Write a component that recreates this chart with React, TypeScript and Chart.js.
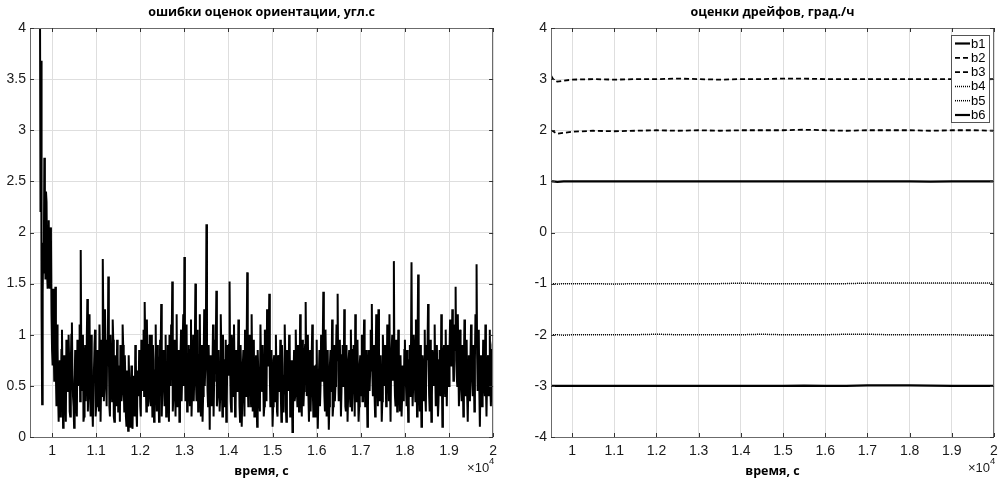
import React, { useEffect, useRef } from "react";
import { Chart, registerables } from "chart.js";

Chart.register(...registerables);

// ---------- data ----------
// attitude-estimate error, samples every 25 s from 9725 s, plus in-between samples (offset 12.5 s)
const errStart = 9725;
const errStep = 25;
const errValues = [
  4.5, 3.68, 0.32, 1.9, 2.73, 1.55, 2.3, 1.45, 2.12, 1.45, 1.95, 0.85, 1.45,
  0.55, 1.47, 0.3, 0.9, 0.15, 0.75, 0.45, 1.05, 0.09, 0.8, 0.35, 0.95, 0.5, 1.0, 0.25, 0.7, 1.12, 0.4, 0.09, 0.85,
  0.3, 0.95, 0.6, 1.1, 1.83, 0.45, 1.0, 0.2, 0.9, 0.6, 1.35, 0.5, 1.2, 0.2, 0.75, 0.1, 0.65, 1.05, 0.3, 0.85,
  0.4, 1.1, 0.15, 0.95, 1.74, 0.35, 1.25, 0.6, 0.95, 1.57, 0.3, 1.0, 0.5, 1.15, 0.2, 0.8, 0.45, 0.95, 0.25, 0.7,
  0.9, 0.35, 1.1, 0.5, 0.8, 0.2, 0.65, 0.06, 0.55, 0.1, 0.7, 0.08, 0.6, 0.2, 0.75, 0.1, 0.5, 0.85, 0.3, 0.95,
  0.45, 1.05, 1.32, 0.6, 1.15, 0.3, 0.9, 0.55, 1.0, 0.2, 0.75, 0.4, 1.1, 0.25, 0.8, 0.15, 0.95, 1.3, 0.5, 0.85,
  0.3, 1.0, 0.45, 0.9, 0.15, 0.7, 1.1, 1.52, 0.4, 0.95, 0.2, 1.2, 0.55, 0.85, 0.25, 1.05, 0.6, 1.2, 1.76, 0.35,
  1.1, 0.5, 0.9, 0.3, 1.15, 0.45, 1.0, 0.6, 1.5, 0.35, 1.05, 0.5, 1.2, 0.2, 0.9, 0.4, 1.25, 0.7, 2.08, 0.45,
  0.9, 0.07, 0.65, 0.3, 1.1, 0.55, 0.95, 1.43, 0.4, 0.85, 0.25, 1.2, 0.5, 1.0, 0.3, 0.75, 0.15, 0.9, 0.6, 1.52,
  0.35, 1.0, 0.5, 1.1, 0.2, 0.85, 0.45, 1.15, 0.3, 0.9, 0.1, 0.7, 0.55, 1.05, 0.4, 1.61, 0.3, 1.0, 0.6, 1.2,
  0.25, 0.95, 0.4, 0.8, 0.1, 0.65, 0.35, 1.1, 0.5, 0.9, 0.2, 1.05, 0.45, 1.25, 0.7, 1.4, 0.3, 0.85, 0.1, 0.75,
  0.5, 1.0, 0.25, 0.8, 0.45, 0.95, 0.15, 0.7, 0.4, 1.1, 0.3, 0.85, 0.55, 1.0, 0.2, 0.75, 0.05, 0.6, 0.35, 1.05,
  0.5, 0.9, 0.25, 1.2, 0.45, 0.95, 0.3, 0.8, 1.32, 0.4, 1.0, 0.15, 0.85, 0.5, 1.1, 0.2, 0.7, 0.35, 0.95, 0.08,
  0.6, 0.3, 1.0, 0.55, 1.42, 0.4, 1.05, 0.2, 0.85, 0.07, 0.7, 0.45, 1.15, 0.3, 0.9, 0.5, 1.1, 1.4, 0.35, 0.95,
  0.2, 0.8, 0.5, 1.25, 0.3, 0.9, 0.15, 0.75, 0.45, 1.05, 0.25, 0.85, 0.55, 1.2, 0.35, 0.95, 0.15, 0.7, 0.4, 1.0,
  0.6, 1.15, 0.3, 0.85, 0.1, 0.7, 0.45, 1.05, 1.3, 0.4, 0.9, 0.2, 1.2, 0.55, 1.25, 0.35, 0.8, 0.15, 1.0, 0.5,
  0.9, 0.3, 1.1, 0.6, 1.2, 0.15, 0.85, 0.55, 1.72, 0.4, 0.95, 0.25, 1.05, 0.45, 0.8, 0.2, 0.7, 0.35, 0.95, 0.5,
  0.85, 0.15, 0.75, 0.4, 1.71, 0.3, 1.0, 0.55, 1.15, 0.2, 1.59, 0.45, 0.9, 0.1, 0.8, 0.35, 1.05, 0.25, 0.75, 1.3,
  0.4, 0.95, 0.15, 0.85, 0.5, 1.1, 0.3, 0.9, 0.2, 0.75, 0.45, 1.2, 0.1, 0.8, 0.55, 1.05, 0.3, 0.9, 0.5, 1.15,
  0.7, 1.25, 0.55, 1.1, 1.47, 0.6, 1.2, 0.3, 1.05, 0.5, 0.9, 0.2, 1.15, 0.4, 0.95, 0.15, 0.8, 0.35, 1.1, 0.55,
  0.9, 0.25, 1.2, 1.69, 0.45, 1.05, 0.1, 0.8, 0.3, 0.95, 0.5, 1.1, 0.2, 0.75, 0.4, 1.05, 0.3, 0.85, 0.95,
];
const errMidValues = [
  2.2, 1.2, 1.4, 1.6, 1.9, 2.4, 1.6, 1.9, 1.5, 2.05, 1.2, 0.7,
  0.9, 0.8, 0.6, 1.1, 0.4, 0.6, 0.2, 0.85, 0.55, 0.3, 0.65, 0.15, 0.9, 0.45, 0.75, 0.2, 1.0, 0.6, 0.3, 0.55,
  0.7, 0.2, 0.5, 0.85, 0.35, 0.8, 0.6, 0.15, 0.7, 0.35, 0.95, 0.25, 0.8, 0.4, 1.0, 0.3, 0.55, 0.9, 0.2, 0.6,
  0.65, 0.25, 0.8, 0.5, 0.4, 1.1, 0.5, 0.85, 0.3, 0.7, 0.9, 0.2, 0.75, 0.35, 0.95, 0.15, 0.6, 0.3, 0.8, 0.45,
  0.15, 0.7, 0.45, 0.9, 0.25, 0.55, 0.1, 0.4, 0.8, 0.3, 0.45, 0.15, 0.5, 0.35, 0.9, 0.25, 0.65, 0.4, 0.7, 0.2,
  0.6, 0.8, 0.4, 0.95, 0.25, 0.7, 0.35, 1.0, 0.3, 0.55, 0.9, 0.15, 0.65, 0.45, 0.9, 0.5, 0.3, 0.8, 0.2, 0.65,
  0.55, 0.75, 0.2, 0.6, 0.4, 1.0, 0.5, 0.85, 0.25, 0.7, 0.45, 0.9, 0.3, 0.6, 0.15, 0.8, 0.35, 0.95, 0.5, 0.8,
  0.6, 0.25, 0.7, 0.45, 0.85, 0.2, 0.6, 0.35, 0.9, 0.55, 0.7, 0.25, 0.8, 0.45, 0.65, 0.15, 0.75, 0.5, 0.95, 0.8,
  0.3, 0.55, 0.8, 0.45, 0.7, 0.2, 0.6, 0.9, 0.3, 0.7, 0.55, 0.4, 0.85, 0.2, 0.65, 0.4, 0.95, 0.35, 0.8, 0.9,
  0.7, 0.25, 0.9, 0.4, 0.65, 0.3, 0.75, 0.55, 0.8, 0.15, 0.6, 0.35, 0.85, 0.2, 0.75, 0.9, 0.5, 0.4, 0.85, 0.3,
  0.7, 0.55, 0.2, 0.6, 0.35, 0.85, 0.5, 0.25, 0.75, 0.45, 0.65, 0.3, 0.9, 0.35, 0.8, 0.9, 0.6, 0.45, 0.5, 0.3,
  0.8, 0.35, 0.6, 0.2, 0.75, 0.5, 0.4, 0.9, 0.25, 0.6, 0.8, 0.15, 0.7, 0.45, 0.95, 0.3, 0.5, 0.2, 0.85, 0.4,
  0.75, 0.3, 0.65, 0.5, 0.8, 0.2, 0.6, 0.45, 0.9, 0.75, 0.6, 0.4, 0.55, 0.25, 0.8, 0.45, 0.6, 0.2, 0.7, 0.4,
  0.35, 0.85, 0.5, 0.8, 0.9, 0.7, 0.25, 0.65, 0.45, 0.4, 0.3, 0.85, 0.6, 0.2, 0.7, 0.35, 0.8, 0.75, 0.65, 0.4,
  0.6, 0.45, 0.9, 0.55, 0.7, 0.25, 0.6, 0.4, 0.85, 0.3, 0.65, 0.5, 0.9, 0.2, 0.75, 0.45, 0.5, 0.3, 0.8, 0.55,
  0.35, 0.8, 0.6, 0.45, 0.5, 0.3, 0.85, 0.65, 0.8, 0.6, 0.7, 0.4, 0.75, 0.85, 0.3, 0.6, 0.45, 0.55, 0.35, 0.8,
  0.6, 0.65, 0.4, 0.9, 0.35, 0.5, 0.7, 1.0, 0.9, 0.65, 0.3, 0.7, 0.5, 0.8, 0.25, 0.5, 0.4, 0.6, 0.85, 0.6,
  0.3, 0.5, 0.35, 0.9, 0.8, 0.6, 0.5, 0.85, 0.35, 0.8, 0.9, 0.6, 0.25, 0.55, 0.45, 0.7, 0.5, 0.4, 0.9, 0.85,
  0.7, 0.25, 0.6, 0.4, 0.8, 0.55, 0.65, 0.45, 0.5, 0.35, 0.85, 0.4, 0.6, 0.35, 0.9, 0.4, 0.65, 0.7, 0.8, 0.85,
  0.9, 0.8, 0.9, 0.95, 0.85, 0.75, 0.5, 0.7, 0.55, 0.75, 0.35, 0.6, 0.7, 0.8, 0.55, 0.4, 0.5, 0.6, 0.8, 0.7,
  0.4, 0.7, 0.75, 1.0, 0.8, 0.5, 0.45, 0.5, 0.6, 0.55, 0.8, 0.4, 0.5, 0.55, 0.8, 0.6, 0.5, 0.6, 0.9,
];

const xTickValues = [10000, 11000, 12000, 13000, 14000, 15000, 16000, 17000, 18000, 19000, 20000];
const xTickLabels = ["1", "1.1", "1.2", "1.3", "1.4", "1.5", "1.6", "1.7", "1.8", "1.9", "2"];
const leftYTicks = [0, 0.5, 1, 1.5, 2, 2.5, 3, 3.5, 4];
const leftYLabels = ["0", "0.5", "1", "1.5", "2", "2.5", "3", "3.5", "4"];
const rightYTicks = [-4, -3, -2, -1, 0, 1, 2, 3, 4];
const rightYLabels = ["-4", "-3", "-2", "-1", "0", "1", "2", "3", "4"];

const driftTimes = [9500, 9550, 9650, 9800, 10000, 10500, 11000, 11500, 12000, 12500, 13000, 13500, 14000, 14500, 15000, 15500, 16000, 16500, 17000, 17500, 18000, 18500, 19000, 19500, 20000];
const b1 = [1.0, 1.0, 0.99, 1.0, 1.0, 1.0, 1.0, 1.0, 1.0, 1.0, 1.0, 1.0, 1.0, 1.0, 1.0, 1.0, 1.0, 1.0, 1.0, 1.0, 1.0, 0.995, 1.0, 1.0, 1.0];
const b2 = [2.0, 1.98, 1.93, 1.95, 1.97, 1.99, 1.98, 1.99, 2.0, 1.99, 2.0, 1.99, 2.0, 2.0, 2.0, 2.01, 2.0, 1.99, 2.0, 2.0, 2.0, 1.99, 2.0, 2.0, 1.99];
const b3 = [3.07, 3.0, 2.95, 2.97, 2.99, 3.0, 2.99, 3.0, 3.0, 3.01, 3.0, 2.99, 3.0, 3.0, 3.01, 3.01, 3.0, 3.0, 3.0, 3.0, 3.0, 3.0, 3.0, 2.99, 3.0];
const b4 = [-1.0, -1.0, -1.01, -1.0, -1.0, -1.0, -1.01, -1.0, -1.0, -1.0, -1.0, -1.0, -0.99, -1.0, -1.0, -1.0, -1.0, -1.0, -0.99, -0.99, -0.99, -0.99, -0.99, -0.99, -0.99];
const b5 = [-2.0, -2.0, -2.0, -2.01, -2.0, -2.0, -2.0, -2.0, -1.99, -2.0, -2.0, -2.0, -2.0, -1.99, -2.0, -2.0, -2.0, -1.99, -1.99, -2.0, -2.0, -2.0, -2.0, -2.01, -2.01];
const b6 = [-3.0, -3.0, -3.0, -3.0, -3.0, -3.0, -3.0, -3.0, -3.0, -3.0, -3.0, -3.0, -3.0, -3.0, -3.0, -2.995, -3.0, -3.0, -2.99, -2.99, -2.99, -2.995, -3.0, -3.0, -3.0];
const driftNames = ["b1", "b2", "b3", "b4", "b5", "b6"];
const driftSeries = [b1, b2, b3, b4, b5, b6];

const leftTitle = "ошибки оценок ориентации, угл.с";
const rightTitle = "оценки дрейфов, град./ч";
const xTitle = "время, с";

// ---------- styles ----------
const TICK_FONT = "Liberation Sans";
const TITLE_FONT = "'Open Sans'";
const TICK_COLOR = "#1a1a1a";
const GRID_COLOR = "#dedede";
const AXIS_COLOR = "#6b6b6b";
const driftStyles = [
  { dash: [], width: 2.2 },
  { dash: [5, 3], width: 1.8 },
  { dash: [5, 3], width: 1.8 },
  { dash: [1, 1], width: 1.5 },
  { dash: [1, 1], width: 1.5 },
  { dash: [], width: 2.2 },
];

function errPoints() {
  const pts: { x: number; y: number }[] = [];
  errValues.forEach((v, i) => {
    const t = errStart + i * errStep;
    pts.push({ x: t, y: v });
    if (i < errMidValues.length) pts.push({ x: t + errStep / 2, y: errMidValues[i] });
  });
  return pts;
}

function framePlugin(title: string, legend: boolean) {
  return {
    id: "frame",
    afterDraw(chart: any) {
      const { ctx, chartArea } = chart;
      const { left, right, top, bottom } = chartArea;
      const xs = chart.scales.x;
      const ys = chart.scales.y;
      ctx.save();
      ctx.strokeStyle = AXIS_COLOR;
      ctx.lineWidth = 1;
      ctx.setLineDash([]);
      ctx.strokeRect(Math.round(left) + 0.5, Math.round(top) + 0.5, Math.round(right - left) - 1, Math.round(bottom - top));
      ctx.strokeStyle = "#333";
      ctx.beginPath();
      for (const v of xTickValues) {
        const px = Math.round(xs.getPixelForValue(v)) + 0.5;
        ctx.moveTo(px, top);
        ctx.lineTo(px, top + 4);
        ctx.moveTo(px, bottom);
        ctx.lineTo(px, bottom - 4);
      }
      for (const t of ys.ticks) {
        const py = Math.round(ys.getPixelForValue(t.value)) + 0.5;
        ctx.moveTo(left, py);
        ctx.lineTo(left + 4, py);
        ctx.moveTo(right, py);
        ctx.lineTo(right - 4, py);
      }
      ctx.stroke();
      const cx = (left + right) / 2;
      ctx.fillStyle = "#000";
      ctx.textAlign = "center";
      ctx.textBaseline = "middle";
      ctx.font = `bold 12.5px ${TITLE_FONT}`;
      ctx.fillText(title, cx, 12);
      ctx.fillText(xTitle, cx, 471);
      ctx.fillStyle = TICK_COLOR;
      ctx.textAlign = "left";
      ctx.font = `13px ${TICK_FONT}`;
      const base = "\u00d710";
      const w = ctx.measureText(base).width;
      const sx = right + 2 - w - 6;
      ctx.fillText(base, sx, 468);
      ctx.font = `9.5px ${TICK_FONT}`;
      ctx.fillText("4", sx + w, 461);
      if (legend) {
        const bw = 38;
        const bh = 87;
        const bx = Math.round(right) - 5 - bw;
        const by = Math.round(top) + 7;
        ctx.fillStyle = "#fff";
        ctx.fillRect(bx, by, bw, bh);
        ctx.strokeStyle = "#555";
        ctx.lineWidth = 1;
        ctx.strokeRect(bx + 0.5, by + 0.5, bw, bh);
        ctx.font = `13px ${TICK_FONT}`;
        ctx.textBaseline = "middle";
        driftNames.forEach((n, i) => {
          const yy = by + 8.5 + i * 14.3;
          ctx.strokeStyle = "#000";
          ctx.lineWidth = driftStyles[i].width;
          ctx.setLineDash(driftStyles[i].dash);
          ctx.beginPath();
          ctx.moveTo(bx + 4, yy);
          ctx.lineTo(bx + 19, yy);
          ctx.stroke();
          ctx.setLineDash([]);
          ctx.fillStyle = "#000";
          ctx.fillText(n, bx + 20, yy + 0.5);
        });
      }
      ctx.restore();
    },
  };
}

function makeScales(yTicks: number[], yLabels: string[], yMin: number, yMax: number, yWidth: number) {
  return {
    x: {
      type: "linear",
      min: 9500,
      max: 20000,
      afterBuildTicks: (s: any) => {
        s.ticks = xTickValues.map((v) => ({ value: v }));
      },
      afterFit: (s: any) => {
        s.height = 48;
      },
      grid: { color: GRID_COLOR, drawTicks: false, lineWidth: 1 },
      border: { display: false },
      ticks: {
        padding: 6,
        maxRotation: 0,
        autoSkip: false,
        color: TICK_COLOR,
        font: { family: TICK_FONT, size: 14 },
        callback: (v: number) => {
          const i = xTickValues.indexOf(v);
          return i >= 0 ? xTickLabels[i] : "";
        },
      },
    },
    y: {
      type: "linear",
      min: yMin,
      max: yMax,
      afterBuildTicks: (s: any) => {
        s.ticks = yTicks.map((v) => ({ value: v }));
      },
      afterFit: (s: any) => {
        s.width = yWidth;
      },
      grid: { color: GRID_COLOR, drawTicks: false, lineWidth: 1 },
      border: { display: false },
      ticks: {
        padding: 4,
        autoSkip: false,
        color: TICK_COLOR,
        font: { family: TICK_FONT, size: 14 },
        callback: (v: number) => {
          const i = yTicks.indexOf(v);
          return i >= 0 ? yLabels[i] : "";
        },
      },
    },
  };
}

function LeftChart() {
  const ref = useRef<HTMLCanvasElement>(null);
  useEffect(() => {
    const chart = new Chart(ref.current as HTMLCanvasElement, {
      type: "line",
      data: {
        datasets: [
          {
            data: errPoints(),
            borderColor: "#000",
            borderWidth: 2,
            pointRadius: 0,
            tension: 0,
            fill: false,
          },
        ],
      },
      options: {
        animation: false,
        responsive: false,
        layout: { padding: { left: 0, right: 5, top: 28, bottom: 0 } },
        plugins: { legend: { display: false }, tooltip: { enabled: false }, title: { display: false } },
        scales: makeScales(leftYTicks, leftYLabels, 0, 4, 30) as any,
      },
      plugins: [framePlugin(leftTitle, false)],
    } as any);
    return () => chart.destroy();
  }, []);
  return <canvas ref={ref} width={503} height={485} style={{ position: "absolute", left: 0, top: 0 }} />;
}

function RightChart() {
  const ref = useRef<HTMLCanvasElement>(null);
  useEffect(() => {
    const chart = new Chart(ref.current as HTMLCanvasElement, {
      type: "line",
      data: {
        datasets: driftSeries.map((s, k) => ({
          label: driftNames[k],
          data: s.map((v, i) => ({ x: driftTimes[i], y: v })),
          borderColor: "#000",
          borderWidth: driftStyles[k].width,
          borderDash: driftStyles[k].dash,
          pointRadius: 0,
          tension: 0,
          fill: false,
        })),
      },
      options: {
        animation: false,
        responsive: false,
        layout: { padding: { left: 0, right: 12, top: 28, bottom: 0 } },
        plugins: { legend: { display: false }, tooltip: { enabled: false }, title: { display: false } },
        scales: makeScales(rightYTicks, rightYLabels, -4, 4, 48) as any,
      },
      plugins: [framePlugin(rightTitle, true)],
    } as any);
    return () => chart.destroy();
  }, []);
  return <canvas ref={ref} width={503} height={485} style={{ position: "absolute", left: 503, top: 0 }} />;
}

export default function App() {
  return (
    <div style={{ position: "fixed", left: 0, top: 0, width: 1006, height: 485, background: "#fff", overflow: "hidden" }}>
      <LeftChart />
      <RightChart />
    </div>
  );
}
